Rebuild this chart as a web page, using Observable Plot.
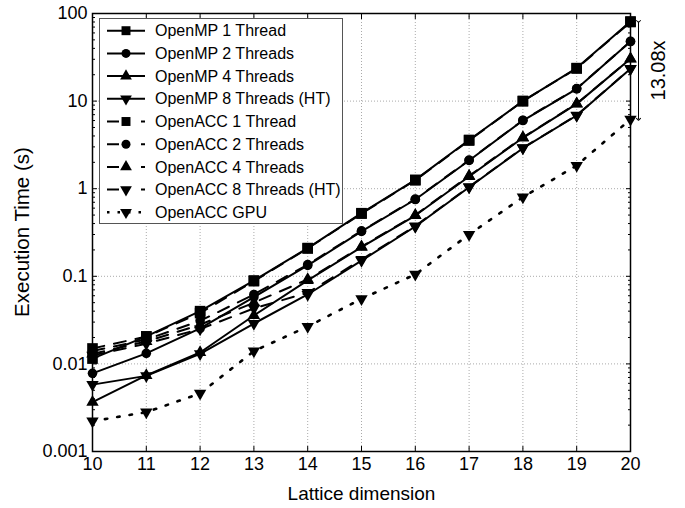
<!DOCTYPE html>
<html><head><meta charset="utf-8">
<script src="https://cdn.jsdelivr.net/npm/d3@7"></script>
<script src="https://cdn.jsdelivr.net/npm/@observablehq/plot@0.6"></script>
<style>html,body{margin:0;padding:0;background:#fff;} #chart{width:685px;height:508px;}</style>
</head><body><div id="chart"></div>
<script>
// ---- data ----
const dims = [10, 11, 12, 13, 14, 15, 16, 17, 18, 19, 20];
const openmp1 = [0.0115, 0.0206, 0.040, 0.0895, 0.21, 0.525, 1.26, 3.6, 10.0, 23.8, 81];
const openmp2 = [0.0078, 0.0132, 0.0254, 0.058, 0.133, 0.325, 0.753, 2.10, 6.0, 13.8, 47.9];
const openmp4 = [0.00366, 0.0074, 0.0135, 0.0357, 0.090, 0.215, 0.494, 1.38, 3.81, 9.3, 30.4];
const openmp8 = [0.0058, 0.0073, 0.0130, 0.0289, 0.062, 0.151, 0.37, 1.04, 2.90, 6.85, 23.4];
const openacc1 = [0.0150, 0.0205, 0.038, 0.088, 0.208, 0.52, 1.25, 3.55, 10.0, 23.6, 80];
const openacc2 = [0.0140, 0.0190, 0.031, 0.062, 0.136, 0.33, 0.76, 2.12, 6.05, 13.9, 48];
const openacc4 = [0.0130, 0.0180, 0.028, 0.050, 0.092, 0.218, 0.50, 1.40, 3.85, 9.35, 30.5];
const openacc8 = [0.0125, 0.0170, 0.025, 0.043, 0.065, 0.155, 0.375, 1.05, 2.92, 6.9, 23.5];
const openaccGpu = [0.00222, 0.00281, 0.0046, 0.0140, 0.0267, 0.0553, 0.105, 0.30, 0.80, 1.84, 6.2];

const seriesNames = ["OpenMP 1 Thread", "OpenMP 2 Threads", "OpenMP 4 Threads", "OpenMP 8 Threads (HT)",
  "OpenACC 1 Thread", "OpenACC 2 Threads", "OpenACC 4 Threads", "OpenACC 8 Threads (HT)", "OpenACC GPU"];
const seriesValues = [openmp1, openmp2, openmp4, openmp8, openacc1, openacc2, openacc4, openacc8, openaccGpu];
const seriesStyle = ["solid", "solid", "solid", "solid", "dashed", "dashed", "dashed", "dashed", "dotted"];
const seriesSymbol = ["square", "circle", "triangle", "down", "square", "circle", "triangle", "down", "down"];

const xTicks = [10, 11, 12, 13, 14, 15, 16, 17, 18, 19, 20];
const yTicks = [0.001, 0.01, 0.1, 1, 10, 100];
const yTickLabels = ["0.001", "0.01", "0.1", "1", "10", "100"];
const yMinor = [0.001, 0.01, 0.1, 1, 10].flatMap(d => [2,3,4,5,6,7,8,9].map(k => +(d * k).toPrecision(3)));
const xLabel = "Lattice dimension";
const yLabel = "Execution Time (s)";
const annotationText = "13.08x";

// ---- long table ----
const rows = seriesNames.flatMap((name, i) => dims.map((d, j) => ({
  series: name, dim: d, time: seriesValues[i][j], style: seriesStyle[i], symbol: seriesSymbol[i]
})));

const FONT = "'Liberation Sans', Arial, Helvetica, sans-serif";
const lineOpts = {x: "dim", y: "time", z: "series", stroke: "black", strokeWidth: 2};
const dotBase = {x: "dim", y: "time", fill: "black", stroke: "none"};
const noText = {tickFormat: () => "", label: null, strokeWidth: 1};
const yMid = Math.sqrt(yTicks[0] * yTicks[yTicks.length - 1]);

const plot = Plot.plot({
  width: 685, height: 508,
  marginLeft: 92, marginRight: 55, marginTop: 13, marginBottom: 57,
  style: {fontFamily: FONT, fontSize: "18px", background: "white", color: "black", overflow: "visible"},
  x: {domain: [10, 20]},
  y: {type: "log", domain: [0.001, 100]},
  marks: [
    Plot.gridX(xTicks, {stroke: "#aaa", strokeOpacity: 1, strokeDasharray: "1,2"}),
    Plot.gridY(yTicks, {stroke: "#aaa", strokeOpacity: 1, strokeDasharray: "1,2"}),
    // tick labels
    Plot.axisX(xTicks, {anchor: "bottom", tickSize: 0, tickPadding: 6, fontSize: 18, label: null}),
    Plot.axisY(yTicks, {anchor: "left", tickSize: 0, tickPadding: 5, fontSize: 18, label: null,
      tickFormat: d => yTickLabels[yTicks.indexOf(d)]}),
    // x axis title
    Plot.text([xLabel], {frameAnchor: "bottom", dy: 42, text: d => d, fontSize: 19, fill: "black",
      lineAnchor: "middle", textAnchor: "middle"}),
    // inward ticks
    Plot.axisX(xTicks, {anchor: "bottom", tickSize: -5, ...noText}),
    Plot.axisX(xTicks, {anchor: "top", tickSize: -5, ...noText}),
    Plot.axisY(yTicks, {anchor: "left", tickSize: -5, ...noText}),
    Plot.axisY(yMinor, {anchor: "left", tickSize: -3, ...noText}),
    Plot.axisY(yTicks, {anchor: "right", tickSize: -5, ...noText}),
    Plot.axisY(yMinor, {anchor: "right", tickSize: -3, ...noText}),
    Plot.frame({stroke: "black", strokeWidth: 1.5}),
    // lines
    Plot.line(rows.filter(d => d.style === "solid"), lineOpts),
    Plot.line(rows.filter(d => d.style === "dashed"), {...lineOpts, strokeDasharray: "12,10"}),
    Plot.line(rows.filter(d => d.style === "dotted"), {...lineOpts, strokeWidth: 2.6, strokeDasharray: "2.5,10"}),
    // markers
    Plot.dot(rows.filter(d => d.symbol === "square"), {...dotBase, symbol: "square", r: 6}),
    Plot.dot(rows.filter(d => d.symbol === "circle"), {...dotBase, symbol: "circle", r: 4.8}),
    Plot.dot(rows.filter(d => d.symbol === "triangle"), {...dotBase, symbol: "triangle", r: 4.6}),
    Plot.dot(rows.filter(d => d.symbol === "down"), {...dotBase, symbol: "triangle", r: 4.6, rotate: 180}),
    // speed-up annotation
    Plot.link([0], {x1: () => dims[dims.length - 1], x2: () => dims[dims.length - 1],
      y1: () => openmp1[openmp1.length - 1], y2: () => openaccGpu[openaccGpu.length - 1],
      dx: 8, stroke: "black", strokeWidth: 1, markerStart: "arrow", markerEnd: "arrow"}),
    Plot.text([0], {x: () => dims[dims.length - 1],
      y: () => Math.sqrt(openmp1[openmp1.length - 1] * openaccGpu[openaccGpu.length - 1]),
      text: () => annotationText, rotate: -90, dx: 28, fontSize: 20, fill: "black"})
  ]
});
document.getElementById("chart").appendChild(plot);

const svg = d3.select(plot);
// ---- y axis title, centred on the frame using the plot's scales ----
const ys = plot.scale("y"), xs = plot.scale("x");
svg.append("text")
  .attr("transform", `translate(${xs.apply(xTicks[0]) - 70},${ys.apply(yMid)}) rotate(-90)`)
  .attr("text-anchor", "middle").attr("dy", "0.35em")
  .style("font-family", FONT).style("font-size", "20.5px").attr("fill", "black").text(yLabel);

// ---- legend (drawn into the same SVG) ----
const lg = svg.append("g").style("font-family", FONT).style("font-size", "16px");
lg.append("rect").attr("x", 99.5).attr("y", 18.5).attr("width", 243).attr("height", 205)
  .attr("fill", "white").attr("stroke", "#555").attr("stroke-width", 1);
const symType = {square: d3.symbolSquare, circle: d3.symbolCircle, triangle: d3.symbolTriangle, down: d3.symbolTriangle};
const symSize = {square: 80, circle: 64, triangle: 60, down: 60};
const dashFor = {solid: null, dashed: "12,22,5", dotted: "2.5,8"};
seriesNames.forEach((name, i) => {
  const cy = 30.7 + i * 22.7;
  const st = seriesStyle[i];
  lg.append("line").attr("x1", 107).attr("x2", 145).attr("y1", cy).attr("y2", cy)
    .attr("stroke", "black").attr("stroke-width", st === "dotted" ? 2.6 : 2)
    .attr("stroke-dasharray", dashFor[st]);
  const s = seriesSymbol[i];
  lg.append("path").attr("d", d3.symbol(symType[s], symSize[s])())
    .attr("transform", `translate(126,${cy})` + (s === "down" ? " rotate(180)" : ""))
    .attr("fill", "black");
  lg.append("text").attr("x", 155).attr("y", cy).attr("dy", "0.35em")
    .attr("text-anchor", "start").attr("fill", "black").text(name);
});
</script>
</body></html>
